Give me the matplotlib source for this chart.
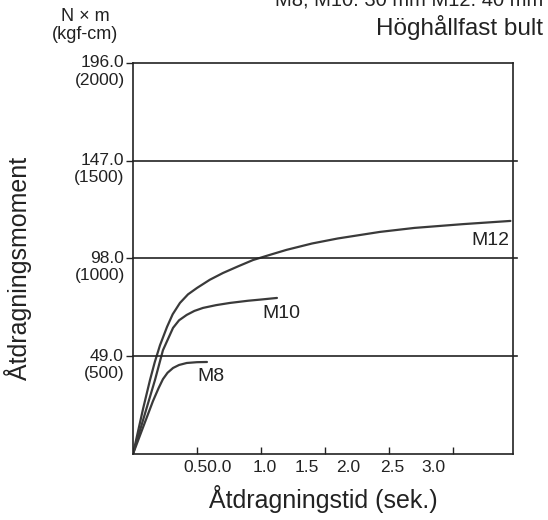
import matplotlib.pyplot as plt

plt.rcParams['font.family'] = ['Liberation Sans', 'DejaVu Sans']

# Tightening curves (time in s, torque in N x m)
m12_t = [0, 0.04, 0.08, 0.133, 0.17, 0.211, 0.266, 0.31, 0.367, 0.43, 0.5, 0.6, 0.703, 0.82, 0.938,
         1.07, 1.2, 1.4, 1.6, 1.93, 2.2, 2.58, 2.95]
m12_q = [0, 11.5, 23, 37.1, 46, 54.5, 63.7, 70, 75.7, 80, 83.2, 87.3, 90.7, 94, 97.2,
         99.8, 102.3, 105.5, 108.0, 111.3, 113.3, 115.2, 116.8]
m10_t = [0, 0.05, 0.1, 0.172, 0.234, 0.313, 0.36, 0.42, 0.48, 0.547, 0.65, 0.758, 0.9, 1.0, 1.125]
m10_q = [0, 10.8, 21.6, 37.1, 52, 63.2, 67, 69.7, 71.7, 73.2, 74.6, 75.7, 76.8, 77.4, 78.2]
m8_t = [0, 0.05, 0.1, 0.156, 0.2, 0.234, 0.27, 0.313, 0.36, 0.42, 0.5, 0.578]
m8_q = [0, 8.5, 17, 26.5, 33, 37.5, 40.7, 43.1, 44.6, 45.6, 46, 46.1]

y_ticks = [49, 98, 147, 196]
y_nm = ["49.0", "98.0", "147.0", "196.0"]
y_kgf = ["(500)", "(1000)", "(1500)", "(2000)"]
x_ticks = [0.5, 1.0, 1.5, 2.0, 2.5]
x_label_pos = [0.586, 1.03, 1.36, 1.68, 2.03, 2.35]
x_labels = ["0.50.0", "1.0", "1.5", "2.0", "2.5", "3.0"]

txt = '#222222'
fig = plt.figure(figsize=(5.48, 5.2), dpi=100)
ax = fig.add_axes([0.2427, 0.127, 0.6934, 0.752])

line_col = '#3a3a3a'
for t, q in [(m12_t, m12_q), (m10_t, m10_q), (m8_t, m8_q)]:
    ax.plot(t, q, color=line_col, lw=1.6, solid_capstyle='round')

# horizontal grid lines running slightly past the right frame
for y in y_ticks[:-1]:
    ax.plot([0, 3.0], [y, y], color=txt, lw=1.2, clip_on=False)

ax.set_xlim(0, 2.97)
ax.set_ylim(0, 196)

# y ticks: value on the tick, kgf-cm value on the line below
ax.set_yticks(y_ticks)
ax.set_yticklabels([])
ax.tick_params(axis='y', direction='out', length=5, width=1, color=txt)
for y, a, b in zip(y_ticks, y_nm, y_kgf):
    ax.annotate(a, xy=(0, y), xycoords=('axes fraction', 'data'), xytext=(-6.5, 0),
                textcoords='offset points', ha='right', va='center', fontsize=12.5, color=txt)
    ax.annotate(b, xy=(0, y), xycoords=('axes fraction', 'data'), xytext=(-6, -12.3),
                textcoords='offset points', ha='right', va='center', fontsize=12.5, color=txt)

ax.set_xticks(x_ticks)
ax.set_xticklabels([])
ax.tick_params(axis='x', which='major', direction='in', length=5, width=1, color=txt)
ax.set_xticks(x_label_pos, minor=True)
ax.set_xticklabels(x_labels, minor=True, fontsize=12.5, color=txt)
ax.tick_params(axis='x', which='minor', length=0, pad=4)

for s in ax.spines.values():
    s.set_color(txt)
    s.set_linewidth(1.2)

ax.set_xlabel("Åtdragningstid (sek.)", fontsize=18, color=txt)
ax.xaxis.set_label_coords(0.5, -0.08)
ax.set_ylabel("Åtdragningsmoment", fontsize=18, color=txt)
ax.yaxis.set_label_coords(-0.265, 0.475)

# curve labels
ax.text(2.945, 106.8, "M12", ha='right', va='center', fontsize=14, color=txt)
ax.text(1.156, 70.2, "M10", ha='center', va='center', fontsize=14, color=txt)
ax.text(0.61, 38.6, "M8", ha='center', va='center', fontsize=14, color=txt)

# header texts
fig.text(0.155, 0.969, "N × m", ha='center', va='center', fontsize=13, color=txt)
fig.text(0.155, 0.934, "(kgf-cm)", ha='center', va='center', fontsize=13, color=txt)
fig.text(0.991, 0.948, "Höghållfast bult", ha='right', va='center', fontsize=17.5, color=txt)
fig.text(0.991, 1.0, "M8, M10: 30 mm M12: 40 mm", ha='right', va='center', fontsize=14.5, color=txt)

fig.savefig("out.png", dpi=100)
